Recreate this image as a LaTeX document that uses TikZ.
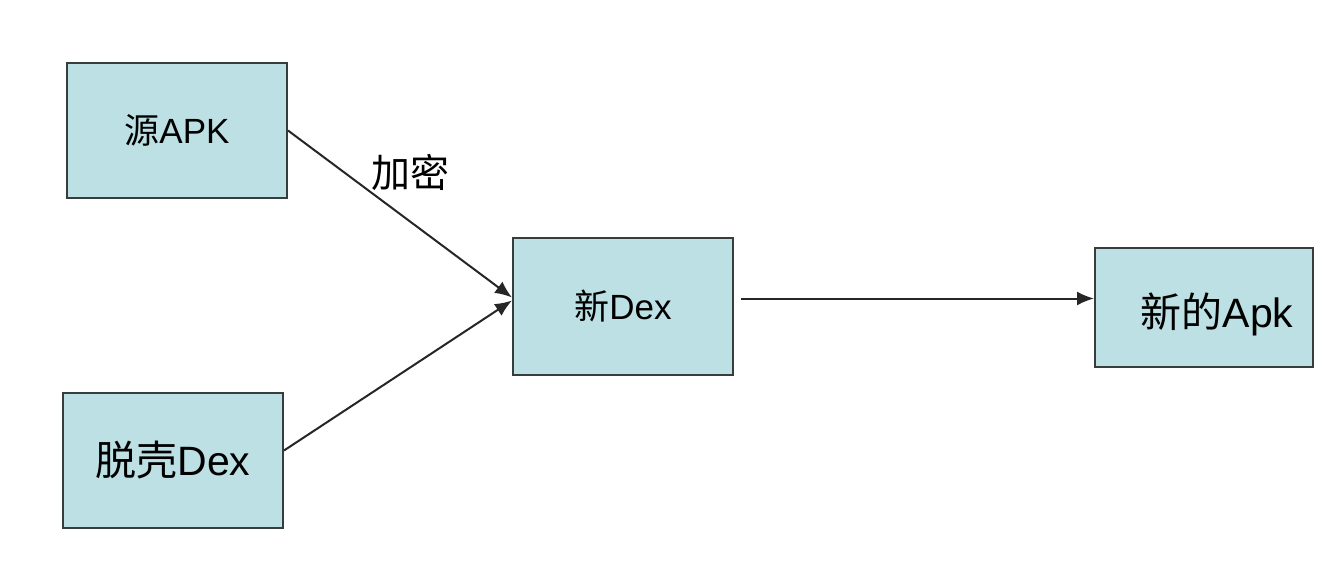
\documentclass[tikz,border=0pt]{standalone}
\usepackage{fontspec}
\setmainfont{Liberation Sans}
\newfontfamily\cjk{Noto Sans CJK SC}
\usetikzlibrary{arrows.meta, positioning}
\definecolor{boxfill}{RGB}{188,224,227}
\definecolor{boxline}{RGB}{55,60,60}
\tikzset{
>={Latex[length=8.5pt,width=7pt]}, % filled arrow heads
box/.style={draw=boxline, line width=1pt, fill=boxfill, inner sep=0pt,
  font=\fontsize{17.5}{20}\selectfont}, % every box in the picture
big/.style={font=\fontsize{20.5}{24}\selectfont}, % larger labels
flow/.style={->, line width=1pt, draw=black!85}, % connectors
}

\begin{document}
\begin{tikzpicture}[x=0.5pt, y=-0.5pt]
  \useasboundingbox (0,0) rectangle (1340,584);
  \node[box, minimum width=110pt, minimum height=67.5pt] (src) at (177,130.5) {{\cjk 源}APK};
  \node[box, big, minimum width=110pt, minimum height=67.5pt] (shell) at (173,460.5) {{\cjk 脱壳}Dex};
  \node[box, minimum width=110pt, minimum height=68.5pt] (ndex) at (623,306.5) {{\cjk 新}Dex};
  \node[box, minimum width=109pt, minimum height=59.5pt,
    label={[big, xshift=6.5pt, yshift=-3.5pt]center:{\cjk 新的}Apk}] (napk) at (1204,307.5) {};

  \draw[flow] (src.east) -- ([yshift=4.5pt]ndex.west);
  \draw[flow] ([yshift=5pt]shell.east) -- ([yshift=3pt]ndex.west);
  \draw[flow] ([xshift=3.5pt,yshift=4pt]ndex.east) -- ([yshift=4.5pt]napk.west);

  \node[font=\fontsize{19.5}{23}\selectfont] (enc) at (410,173) {\cjk 加密};
\end{tikzpicture}
\end{document}
